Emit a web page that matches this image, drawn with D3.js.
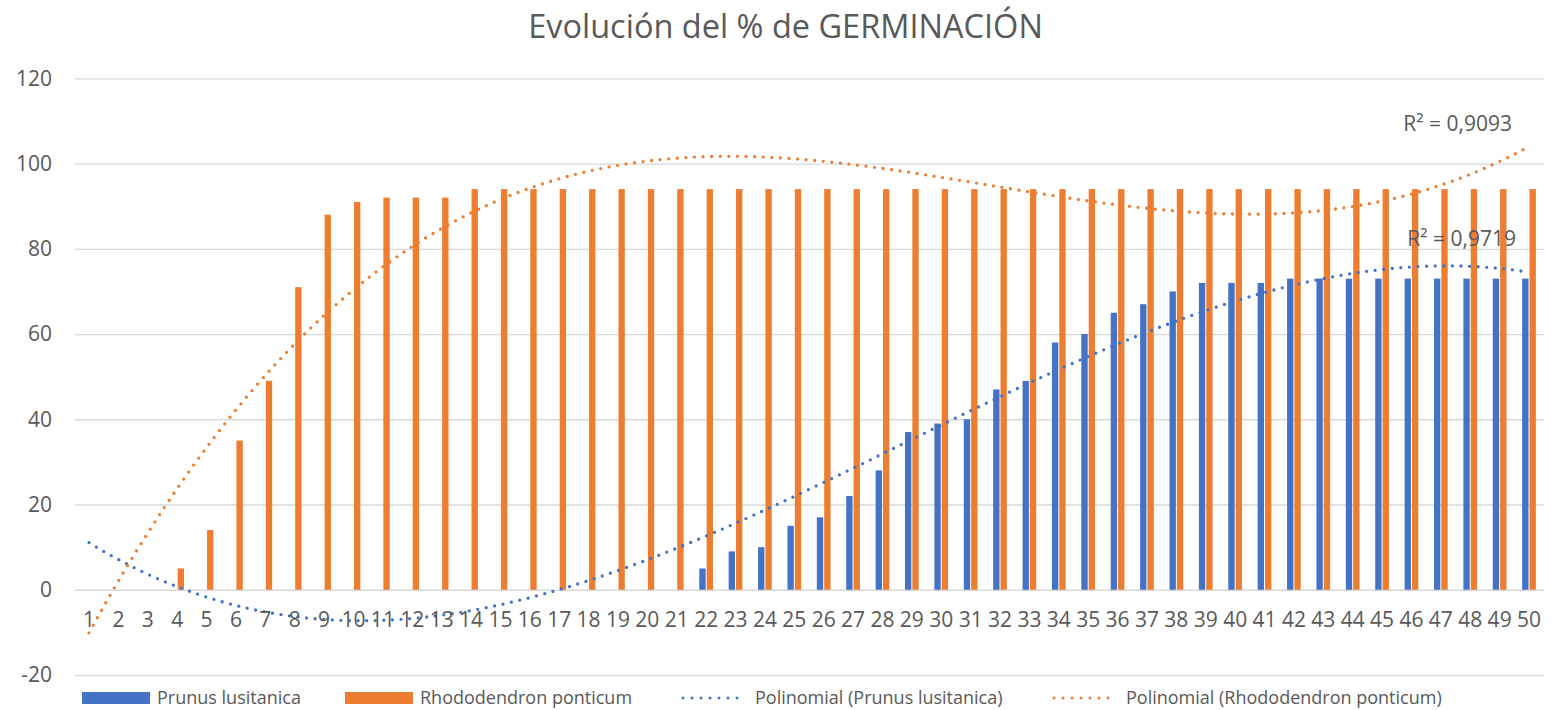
<!DOCTYPE html>
<html>
<head>
<meta charset="utf-8">
<script src="https://cdn.jsdelivr.net/npm/d3@7"></script>
<style>
  html, body { margin: 0; padding: 0; background: #ffffff; }
  svg { display: block; font-family: "Open Sans", "Noto Sans", sans-serif; }
</style>
</head>
<body>
<svg id="chart" width="1557" height="710"></svg>
<script>
// ---------- data ----------
const title = "Evolución del % de GERMINACIÓN";
const categories = [1,2,3,4,5,6,7,8,9,10,11,12,13,14,15,16,17,18,19,20,21,22,23,24,25,
                    26,27,28,29,30,31,32,33,34,35,36,37,38,39,40,41,42,43,44,45,46,47,48,49,50];
const prunus = [0,0,0,0,0,0,0,0,0,0,0,0,0,0,0,0,0,0,0,0,0,
                5,9,10,15,17,22,28,37,39,40,47,49,58,60,65,67,70,72,72,72,73,73,73,73,73,73,73,73,73];
const rhodo = [0,0,0,5,14,35,49,71,88,91,92,92,92,
               94,94,94,94,94,94,94,94,94,94,94,94,94,94,94,94,94,94,94,94,94,94,94,94,94,94,94,94,94,94,94,94,94,94,94,94,94];
const seriesNames = ["Prunus lusitanica", "Rhododendron ponticum"];
const trendNames = ["Polinomial (Prunus lusitanica)", "Polinomial (Rhododendron ponticum)"];
const r2Labels = ["R² = 0,9719", "R² = 0,9093"];
const yTicks = [-20, 0, 20, 40, 60, 80, 100, 120];
const yTickLabels = ["-20", "0", "20", "40", "60", "80", "100", "120"];

// ---------- style / layout ----------
const colors = ["#4472C4", "#ED7D31"];
const textColor = "#595959";
const gridColor = "#D9D9D9";
const plot = { left: 74.3, right: 1543.7, top: 78.3, bottom: 675 };

const svg = d3.select("#chart");

const x = d3.scaleBand().domain(categories).range([plot.left, plot.right]).padding(0);
const bw = x.bandwidth();
const cx = c => x(c) + bw / 2;
const y = d3.scaleLinear().domain([-20, 120]).range([plot.bottom, plot.top]);
const xLin = d3.scaleLinear().domain([categories[0], categories[categories.length - 1]])
  .range([cx(categories[0]), cx(categories[categories.length - 1])]);

// ---------- polynomial regression (as Excel's trendline) ----------
function polyfit(ys, order) {
  const mid = (categories[0] + categories[categories.length - 1]) / 2;
  const half = (categories[categories.length - 1] - categories[0]) / 2;
  const m = order + 1;
  const A = Array.from({length: m}, () => new Array(m).fill(0));
  const b = new Array(m).fill(0);
  categories.forEach((c, i) => {
    const t = (c - mid) / half;
    const p = [1];
    for (let j = 1; j < m; j++) p.push(p[j - 1] * t);
    for (let j = 0; j < m; j++) {
      b[j] += p[j] * ys[i];
      for (let k = 0; k < m; k++) A[j][k] += p[j] * p[k];
    }
  });
  // Gaussian elimination
  for (let col = 0; col < m; col++) {
    let piv = col;
    for (let r = col + 1; r < m; r++) if (Math.abs(A[r][col]) > Math.abs(A[piv][col])) piv = r;
    [A[col], A[piv]] = [A[piv], A[col]];
    [b[col], b[piv]] = [b[piv], b[col]];
    for (let r = col + 1; r < m; r++) {
      const f = A[r][col] / A[col][col];
      for (let k = col; k < m; k++) A[r][k] -= f * A[col][k];
      b[r] -= f * b[col];
    }
  }
  const coef = new Array(m).fill(0);
  for (let r = m - 1; r >= 0; r--) {
    let s = b[r];
    for (let k = r + 1; k < m; k++) s -= A[r][k] * coef[k];
    coef[r] = s / A[r][r];
  }
  const f = xv => {
    const t = (xv - mid) / half;
    let s = 0, p = 1;
    for (let j = 0; j < m; j++) { s += coef[j] * p; p *= t; }
    return s;
  };
  const mean = d3.mean(ys);
  let ssTot = 0, ssRes = 0;
  categories.forEach((c, i) => {
    ssTot += (ys[i] - mean) ** 2;
    ssRes += (ys[i] - f(c)) ** 2;
  });
  return { f, r2: 1 - ssRes / ssTot };
}
function bestFit(ys, label) {
  const target = parseFloat(label.split("=")[1].trim().replace(",", "."));
  let best = null;
  for (let o = 2; o <= 6; o++) {
    const fit = polyfit(ys, o);
    if (!best || Math.abs(fit.r2 - target) < Math.abs(best.r2 - target)) best = fit;
  }
  return best;
}
const fits = [bestFit(prunus, r2Labels[0]), bestFit(rhodo, r2Labels[1])];

// ---------- gridlines + y axis ----------
const yAxis = d3.axisLeft(y).tickValues(yTicks)
  .tickFormat((d, i) => yTickLabels[i])
  .tickSize(-(1544 - 75)).tickPadding(23);
const gy = svg.append("g").attr("transform", "translate(75,0)").call(yAxis);
gy.select(".domain").remove();
gy.selectAll(".tick line").attr("stroke", gridColor).attr("stroke-width", 1.3);
gy.selectAll(".tick text").attr("fill", textColor).style("font-size", "21px")
  .style("font-family", "'Open Sans', sans-serif");

// ---------- bars ----------
const slot = bw / 4;
const series = [prunus, rhodo];
series.forEach((vals, si) => {
  svg.append("g").selectAll("rect")
    .data(categories.map((c, i) => ({ c, v: vals[i] })).filter(d => d.v !== 0))
    .join("rect")
    .attr("x", d => cx(d.c) - slot + si * slot + 0.5)
    .attr("width", slot - 1)
    .attr("y", d => y(Math.max(0, d.v)))
    .attr("height", d => Math.abs(y(d.v) - y(0)))
    .attr("fill", colors[si]);
});

// ---------- trendlines ----------
const samples = d3.range(0, 491).map(i => categories[0] + i * (categories[categories.length - 1] - categories[0]) / 490);
const line = d3.line().x(d => xLin(d[0])).y(d => y(d[1]));
fits.forEach((fit, si) => {
  svg.append("path")
    .attr("d", line(samples.map(s => [s, fit.f(s)])))
    .attr("fill", "none")
    .attr("stroke", colors[si])
    .attr("stroke-width", 3.3)
    .attr("stroke-linecap", "round")
    .attr("stroke-dasharray", "0 8.6");
});

// ---------- R² labels ----------
const r2Pos = [{ x: 1516, y: 246 }, { x: 1512, y: 131 }];
r2Labels.forEach((t, i) => {
  svg.append("text").attr("x", r2Pos[i].x).attr("y", r2Pos[i].y)
    .attr("text-anchor", "end").attr("fill", textColor)
    .style("font-size", "21px").text(t);
});

// ---------- x axis labels ----------
const xAxis = d3.axisBottom(x).tickSize(0).tickPadding(22.6);
const gx = svg.append("g").attr("transform", `translate(0,${y(0)})`).call(xAxis);
gx.select(".domain").remove();
gx.selectAll(".tick text").attr("fill", textColor).style("font-size", "21px")
  .style("font-family", "'Open Sans', sans-serif");

// ---------- title ----------
const tt = svg.append("text").attr("x", 785.5).attr("y", 38)
  .attr("text-anchor", "middle").attr("fill", textColor)
  .style("font-size", "32px").text(title);
const tw = tt.node().getComputedTextLength();
tt.style("font-size", (32 * 515 / tw) + "px");

// ---------- legend ----------
const legendY = 698;
const legendX = [82, 345, 680, 1051];
const legendItems = [
  { type: "rect", color: colors[0], label: seriesNames[0] },
  { type: "rect", color: colors[1], label: seriesNames[1] },
  { type: "dot", color: colors[0], label: trendNames[0] },
  { type: "dot", color: colors[1], label: trendNames[1] }
];
legendItems.forEach((it, i) => {
  const g = svg.append("g").attr("transform", `translate(${legendX[i]},${legendY})`);
  if (it.type === "rect") {
    g.append("rect").attr("x", 0).attr("y", -6).attr("width", 68).attr("height", 12).attr("fill", it.color);
  } else {
    g.append("line").attr("x1", 3).attr("x2", 66).attr("y1", 0).attr("y2", 0)
      .attr("stroke", it.color).attr("stroke-width", 3)
      .attr("stroke-linecap", "round").attr("stroke-dasharray", "0 9");
  }
  g.append("text").attr("x", 75).attr("y", 0).attr("dy", "0.36em")
    .attr("fill", textColor).style("font-size", "18px").text(it.label);
});
</script>
</body>
</html>
